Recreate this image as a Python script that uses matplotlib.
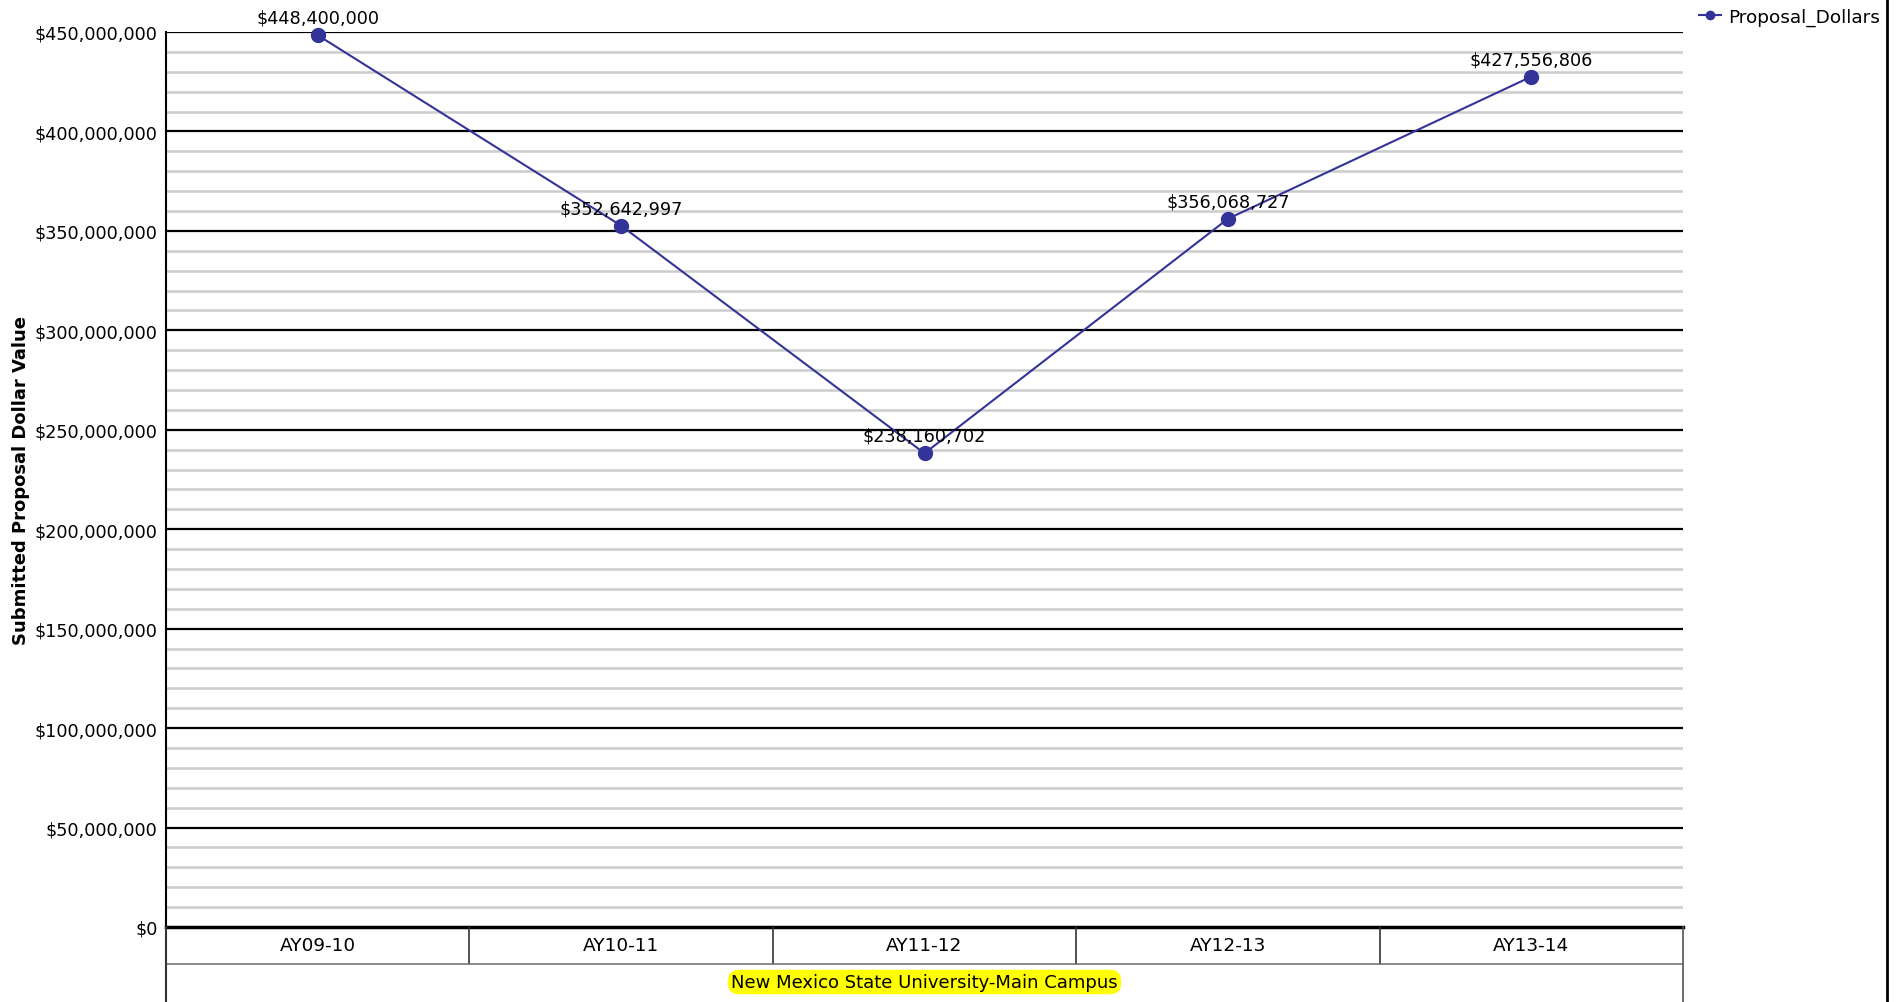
### Submitted proposal dollars by academic year ###
import numpy as np
import matplotlib.pyplot as plt
from matplotlib.lines import Line2D

### DATA ###
years = ['AY09-10', 'AY10-11', 'AY11-12', 'AY12-13', 'AY13-14']
proposal_dollars = [448400000, 352642997, 238160702, 356068727, 427556806]
campus = 'New Mexico State University-Main Campus'
series_name = 'Proposal_Dollars'
y_label = 'Submitted Proposal Dollar Value'

W, H = 1904, 1003
LEFT, RIGHT, TOP, ZERO = 166, 1683, 33, 928
BAND = 965
LINE_COLOR = '#333399'
FS = 12.7

plt.rcParams['font.family'] = ['DejaVu Sans']

fig = plt.figure(figsize=(W / 100, H / 100), dpi=100)

### MAIN PLOT ###
ax = fig.add_axes([LEFT / W, (H - ZERO) / H, (RIGHT - LEFT) / W, (ZERO - TOP) / H])
ax.set_xlim(-0.5, len(years) - 0.5)
ax.set_ylim(0, 450e6)

# minor grid every 10M, major every 50M
for v in np.arange(10e6, 450e6, 10e6):
    if v % 50e6 != 0:
        ax.axhline(v, color='#cccccc', lw=1.8, zorder=1)
for v in np.arange(50e6, 451e6, 50e6):
    ax.axhline(v, color='black', lw=1.6, zorder=2)
ax.axhline(0, color='black', lw=2.5, zorder=2, clip_on=False)

x = np.arange(len(years))
ax.plot(x, proposal_dollars, color=LINE_COLOR, lw=1.5, marker='o', markersize=10,
        zorder=5, clip_on=False, label=series_name)
for xi, v in zip(x, proposal_dollars):
    ax.annotate(f'${v:,.0f}', (xi, v), xytext=(0, 6), textcoords='offset points',
                ha='center', va='bottom', fontsize=FS, zorder=6)

ax.set_yticks(np.arange(0, 451e6, 50e6))
ax.set_yticklabels([f'${v:,.0f}' for v in np.arange(0, 451e6, 50e6)], fontsize=FS)
ax.tick_params(axis='y', length=0, pad=6)
ax.set_xticks([])
for s in ['top', 'right', 'bottom']:
    ax.spines[s].set_visible(False)
ax.spines['left'].set_color('black')
ax.spines['left'].set_linewidth(1.5)
ax.set_ylabel(y_label, fontsize=13, fontweight='bold')
ax.yaxis.set_label_coords(-(LEFT - 30) / (RIGHT - LEFT), 0.5)

### CATEGORY BANDS BELOW ###
ax2 = fig.add_axes([LEFT / W, 0, (RIGHT - LEFT) / W, (H - ZERO) / H])
ax2.set_xlim(-0.5, len(years) - 0.5)
ax2.set_ylim(H - ZERO, 0)
ax2.axis('off')
band_h = BAND - ZERO
for i in range(1, len(years)):
    ax2.plot([i - 0.5, i - 0.5], [0, band_h], color='#333333', lw=1.2)
ax2.plot([-0.5, len(years) - 0.5], [band_h, band_h], color='#777777', lw=1.2)
ax2.plot([-0.5, -0.5], [0, H - ZERO], color='#333333', lw=1.5, clip_on=False)
ax2.plot([len(years) - 0.5] * 2, [0, H - ZERO], color='#555555', lw=1.2, clip_on=False)
for i, yr in enumerate(years):
    ax2.text(i, band_h / 2, yr, ha='center', va='center', fontsize=13.3)
ax2.text((len(years) - 1) / 2, (band_h + H - ZERO) / 2 - 1, campus, ha='center', va='center',
         fontsize=13, bbox=dict(boxstyle='round,pad=0.18,rounding_size=0.6',
                                fc='#ffff00', ec='none'))

### RIGHT BORDER AND LEGEND ###
fig.add_artist(Line2D([1887 / W, 1887 / W], [0, 1], color='black', lw=2))
fig.legend(handles=[Line2D([0], [0], color=LINE_COLOR, lw=1.5, marker='o', markersize=6)],
           labels=[series_name], loc='upper left', bbox_to_anchor=(1682 / W, 1.008),
           frameon=False, fontsize=13.3, handlelength=1.2, handletextpad=0.4)

fig.savefig('out.png', dpi=100)
